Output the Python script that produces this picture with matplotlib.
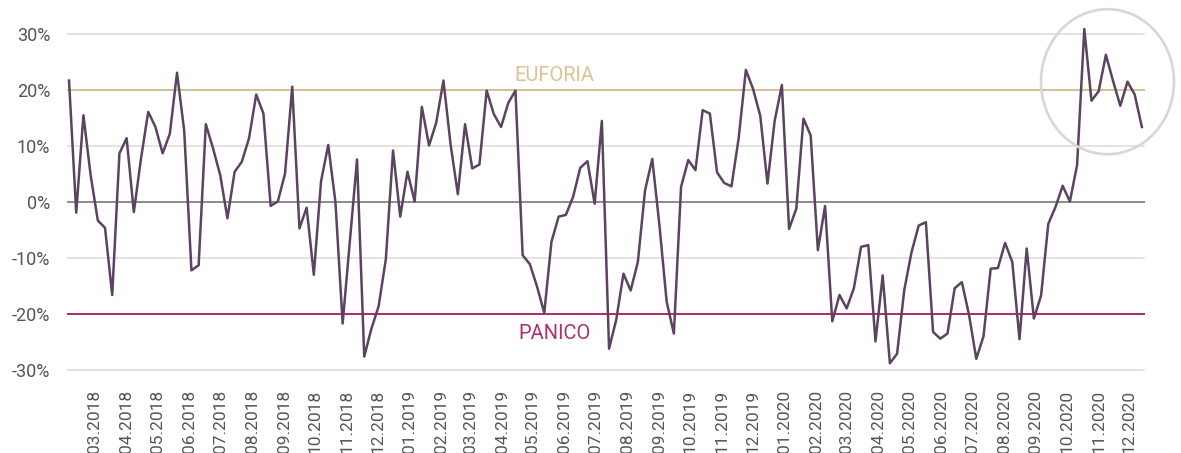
import matplotlib
matplotlib.use("Agg")
import matplotlib.pyplot as plt
import matplotlib.dates as mdates
from matplotlib.patches import Ellipse
from matplotlib.ticker import FuncFormatter
import pandas as pd

# weekly sentiment index, in percent
start_date = "2018-02-06"
values = [
    21.7, -1.9, 15.5, 4.8, -3.3, -4.6, -16.6, 8.7, 11.4, -1.8,
    7.8, 16.1, 13.4, 8.7, 12.2, 23.1, 12.7, -12.2, -11.3, 13.9,
    9.6, 4.8, -2.9, 5.4, 7.2, 11.4, 19.2, 15.8, -0.7, 0.1,
    5.1, 20.6, -4.7, -1.0, -13.0, 3.7, 10.2, 0.0, -21.7, -7.0,
    7.6, -27.6, -22.6, -18.6, -10.2, 9.2, -2.6, 5.4, 0.1, 17.0,
    10.1, 14.2, 21.7, 10.2, 1.4, 13.9, 6.0, 6.7, 19.9, 15.7,
    13.4, 17.7, 19.9, -9.5, -11.1, -15.1, -19.8, -7.1, -2.6, -2.3,
    0.9, 6.1, 7.3, -0.3, 14.5, -26.2, -21.0, -12.8, -15.8, -10.7,
    2.1, 7.7, -4.2, -17.8, -23.5, 2.7, 7.5, 5.7, 16.4, 15.8,
    5.3, 3.4, 2.8, 11.4, 23.6, 20.2, 15.4, 3.3, 14.5, 20.9,
    -4.8, -1.2, 14.9, 11.9, -8.6, -0.7, -21.3, -16.6, -19.0, -15.4,
    -8.0, -7.7, -24.9, -13.1, -28.8, -27.1, -15.7, -9.0, -4.2, -3.6,
    -23.2, -24.4, -23.5, -15.4, -14.3, -20.2, -28.0, -24.0, -11.9, -11.8,
    -7.3, -10.7, -24.5, -8.3, -20.8, -16.7, -3.9, -0.9, 2.9, 0.1,
    6.6, 30.9, 18.1, 19.8, 26.3, 21.6, 17.2, 21.5, 19.2, 13.4,
]
dates = pd.date_range(start_date, periods=len(values), freq="7D")

euphoria_level = 20
panic_level = -20
grid_levels = [-30, -10, 10, 30]
zero_level = 0

plt.rcParams["font.family"] = ["Roboto", "DejaVu Sans"]

fig = plt.figure(figsize=(11.81, 4.53), dpi=100)
ax = fig.add_axes([0.0567, 0.1585, 0.9128, 0.791])

for g in grid_levels:
    ax.axhline(g, color="#e6e2de", lw=1.4, zorder=1)
ax.axhline(zero_level, color="#8c8a8d", lw=1.4, zorder=1)
ax.axhline(euphoria_level, color="#d6b98a", lw=1.3, zorder=1)
ax.axhline(panic_level, color="#b0145f", lw=1.3, zorder=1)

ax.plot(dates, values, color="#5c4361", lw=1.8, zorder=3, clip_on=False)

label_x = dates[67] + pd.Timedelta(days=3)
ax.text(label_x, 21.6, "EUFORIA", color="#dcc193", fontsize=14.5,
        ha="center", va="baseline")
ax.text(label_x, -21.8, "PANICO", color="#b52a6d", fontsize=14.5,
        ha="center", va="top")

ax.set_ylim(-32, 32)
ax.set_yticks([-30, -20, -10, 0, 10, 20, 30])
ax.yaxis.set_major_formatter(FuncFormatter(lambda v, p: f"{v:.0f}%"))
ax.set_xlim(dates[0] - pd.Timedelta(days=2), dates[-1] + pd.Timedelta(days=3))
ax.xaxis.set_major_locator(mdates.MonthLocator(bymonth=range(1, 13), bymonthday=3))
ax.xaxis.set_major_formatter(mdates.DateFormatter("%m.%Y"))
ax.tick_params(axis="x", rotation=90, length=0, pad=6, labelsize=12.5, labelcolor="#555555")
ax.tick_params(axis="y", length=0, pad=12, labelsize=13, labelcolor="#555555")
for lab in ax.get_yticklabels():
    lab.set_horizontalalignment("right")
for s in ax.spines.values():
    s.set_visible(False)

# highlight circle on the latest weeks
circle = Ellipse((1107.5 / 1181, 1 - 81.7 / 453), 133 / 1181, 145 / 453,
                 transform=fig.transFigure, fill=False, ec="#dad6d1", lw=1.9)
fig.add_artist(circle)

fig.savefig("out.png", dpi=100)
